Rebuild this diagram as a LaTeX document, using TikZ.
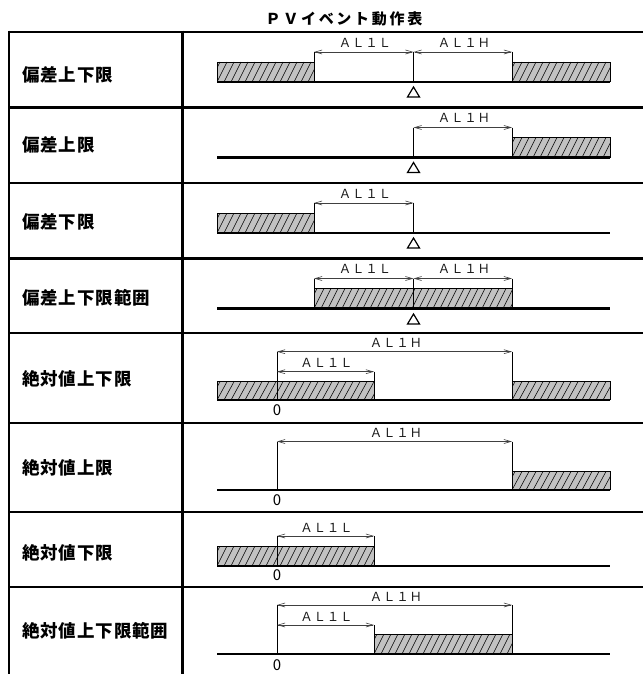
\documentclass[tikz,border=0pt]{standalone}
\usepackage{fontspec}
\setmainfont{Noto Sans CJK JP}
\usetikzlibrary{arrows.meta}
\newcommand\hatchrect[4]{%
  \fill[hatchfill] (#1,#3) rectangle (#2,#4);
  \begin{scope}
    \clip (#1,#3) rectangle (#2,#4);
    \foreach \k in {-14,-7,...,300}{\draw[line width=0.55pt] ({#1+\k},#4) -- ++(10,{-(#4-#3)});}
  \end{scope}
  \draw[line width=0.9pt] (#1,#4) -- (#1,#3) -- (#2,#3) -- (#2,#4);
}
\newcommand\mytri[1]{\draw[tri] (413.5,#1) -- ++(6,10) -- ++(-12,0) -- cycle;}
\begin{document}
\begin{tikzpicture}[x=1pt,y=-1pt,
  tbl/.style={line width=2.6pt},
  base/.style={line width=2.3pt},
  ext/.style={line width=0.9pt},
  dimln/.style={line width=0.6pt, draw=black!75, {Straight Barb[length=7pt,width=4pt]}-{Straight Barb[length=7pt,width=4pt]}},
  dimtxt/.style={font=\fontsize{12.5}{13}\selectfont\addfontfeature{LetterSpace=6}, text=black!90, inner sep=0pt},
  lbl/.style={font=\fontsize{17.5}{18}\selectfont\bfseries\addfontfeature{LetterSpace=5}, anchor=west, inner sep=0pt},
  zero/.style={font=\fontsize{15}{15}\selectfont, inner sep=0pt},
  tri/.style={line width=1.2pt},
  hatchfill/.style={fill=black!24}]
\useasboundingbox (0,0) rectangle (643,674);
% title
\node[font=\fontsize{15}{15}\selectfont\bfseries\addfontfeature{LetterSpace=18}, inner sep=0pt] (title) at (344,19) {ＰＶイベント動作表};
% table
\draw[tbl] (9,32) -- (643,32);
\foreach \yy in {107.5,183,258.5,333,423,512,587}{\draw[tbl] (9,\yy) -- (643,\yy);}
\draw[tbl] (9,30.7) -- (9,674);
\draw[tbl] (182.5,30.7) -- (182.5,674);
% labels
\node[lbl] (l1) at (22,74.5) {偏差上下限};
\node[lbl] (l2) at (22,145) {偏差上限};
\node[lbl] (l3) at (22,222) {偏差下限};
\node[lbl] (l4) at (22,298) {偏差上下限範囲};
\node[lbl] (l5) at (22,379) {絶対値上下限};
\node[lbl] (l6) at (22,468) {絶対値上限};
\node[lbl] (l7) at (22,553) {絶対値下限};
\node[lbl] (l8) at (22,631) {絶対値上下限範囲};
% row 1
\hatchrect{217}{314}{62}{82}
\hatchrect{512}{610}{62}{82}
\draw[base] (217,82) -- (610,82);
\draw[ext] (314,52) -- (314,62) (512,52) -- (512,62) (413.5,52) -- (413.5,82);
\draw[dimln] (314,52) -- (413.5,52);
\draw[dimln] (413.5,52) -- (512,52);
\node[dimtxt] (t1a) at (365,42.5) {ＡＬ１Ｌ};
\node[dimtxt] (t1b) at (464,42.5) {ＡＬ１Ｈ};
\mytri{87}
% row 2
\hatchrect{512}{610}{137.5}{157.5}
\draw[base] (217,157.5) -- (610,157.5);
\draw[ext] (512,127.5) -- (512,137.5) (413.5,127.5) -- (413.5,157.5);
\draw[dimln] (413.5,127.5) -- (512,127.5);
\node[dimtxt] (t2) at (464,118) {ＡＬ１Ｈ};
\mytri{162.5}
% row 3
\hatchrect{217}{314}{213}{233}
\draw[base] (217,233) -- (610,233);
\draw[ext] (314,203) -- (314,213) (413.5,203) -- (413.5,233);
\draw[dimln] (314,203) -- (413.5,203);
\node[dimtxt] (t3) at (365,193.5) {ＡＬ１Ｌ};
\mytri{238}
% row 4
\hatchrect{314}{512}{288.5}{308.5}
\draw[base] (217,308.5) -- (610,308.5);
\draw[ext] (314,278.5) -- (314,288.5) (512,278.5) -- (512,288.5) (413.5,278.5) -- (413.5,308.5);
\draw[dimln] (314,278.5) -- (413.5,278.5);
\draw[dimln] (413.5,278.5) -- (512,278.5);
\node[dimtxt] (t4a) at (365,269) {ＡＬ１Ｌ};
\node[dimtxt] (t4b) at (464,269) {ＡＬ１Ｈ};
\mytri{314}
% row 5
\hatchrect{217}{374}{381.7}{400}
\hatchrect{512}{610}{381.7}{400}
\draw[base] (217,400) -- (610,400);
\draw[ext] (277,351.7) -- (277,400) (374,371.7) -- (374,381.7) (512,351.7) -- (512,381.7);
\draw[dimln] (277,351.7) -- (512,351.7);
\draw[dimln] (277,371.7) -- (374,371.7);
\node[dimtxt] (t5a) at (396,343.3) {ＡＬ１Ｈ};
\node[dimtxt] (t5b) at (326.5,363) {ＡＬ１Ｌ};
\node[zero] (z5) at (277,410) {0};
% row 6
\hatchrect{512}{610}{471.5}{490}
\draw[base] (217,490) -- (610,490);
\draw[ext] (277,441.5) -- (277,490) (512,441.5) -- (512,471.5);
\draw[dimln] (277,441.5) -- (512,441.5);
\node[dimtxt] (t6) at (396,433) {ＡＬ１Ｈ};
\node[zero] (z6) at (277,500) {0};
% row 7
\hatchrect{217}{374}{546}{566}
\draw[base] (217,566) -- (610,566);
\draw[ext] (277,536) -- (277,566) (374,536) -- (374,546);
\draw[dimln] (277,536) -- (374,536);
\node[dimtxt] (t7) at (326.5,528) {ＡＬ１Ｌ};
\node[zero] (z7) at (277,575) {0};
% row 8
\hatchrect{374}{512}{634}{654}
\draw[base] (217,654) -- (610,654);
\draw[ext] (277,605) -- (277,654) (374,625) -- (374,634) (512,605) -- (512,634);
\draw[dimln] (277,605) -- (512,605);
\draw[dimln] (277,625) -- (374,625);
\node[dimtxt] (t8a) at (396,597) {ＡＬ１Ｈ};
\node[dimtxt] (t8b) at (326.5,617) {ＡＬ１Ｌ};
\node[zero] (z8) at (277,665) {0};
\end{tikzpicture}
\end{document}
